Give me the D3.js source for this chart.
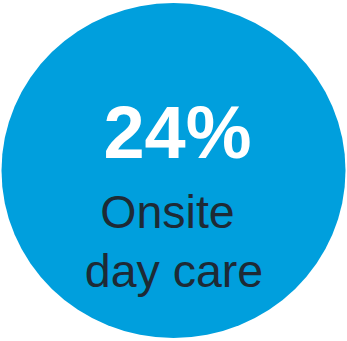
<!DOCTYPE html>
<html>
<head>
<meta charset="utf-8">
<script src="https://cdn.jsdelivr.net/npm/d3@7"></script>
<style>
  html, body { margin: 0; padding: 0; background: #ffffff; }
  svg { display: block; }
</style>
</head>
<body>
<svg id="chart" width="347" height="341"></svg>
<script>
// Stat bubble: share of employers offering the benefit
const values = [24];
const labelLines = ["Onsite", "day care"];

const svg = d3.select("#chart");
const W = 347, H = 341;

// Bubble geometry
const cx = 173.5, cy = 170.5, rx = 172, ry = 167.5;

svg.append("ellipse")
  .attr("cx", cx)
  .attr("cy", cy)
  .attr("rx", rx)
  .attr("ry", ry)
  .attr("fill", "#009fdd");

const fmt = d3.format("d");

// Headline value
svg.selectAll("text.value")
  .data(values)
  .join("text")
  .attr("class", "value")
  .attr("x", 177.5)
  .attr("y", 158)
  .attr("text-anchor", "middle")
  .attr("font-family", "'Liberation Sans', Arial, sans-serif")
  .attr("font-weight", "bold")
  .attr("font-size", 74)
  .attr("fill", "#ffffff")
  .text(d => fmt(d) + "%");

// Label lines
const lineX = [167.5, 174];
const lineY = [228, 287];
svg.selectAll("text.label")
  .data(labelLines)
  .join("text")
  .attr("class", "label")
  .attr("x", (d, i) => lineX[i])
  .attr("y", (d, i) => lineY[i])
  .attr("text-anchor", "middle")
  .attr("font-family", "'Liberation Sans', Arial, sans-serif")
  .attr("font-size", 46.5)
  .attr("fill", "#1e2a35")
  .text(d => d);
</script>
</body>
</html>
